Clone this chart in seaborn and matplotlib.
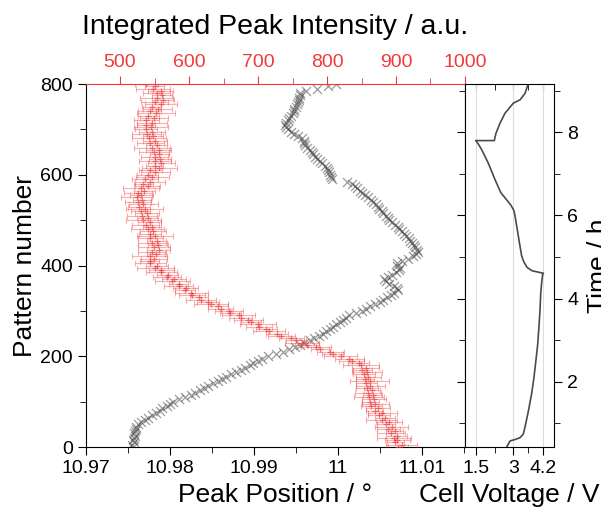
import numpy as np
import matplotlib
matplotlib.use("Agg")
import matplotlib.pyplot as plt
import seaborn as sns
from matplotlib.ticker import MultipleLocator, FixedLocator

# donnees (un pattern sur 5)
pattern = list(range(0, 801, 5))

peak_position = [
    10.9756, 10.9755, 10.9757, 10.9756, 10.9757, 10.9758, 10.9757, 10.9758, 10.9759, 10.9759,
    10.9762, 10.9765, 10.9770, 10.9774, 10.9779, 10.9783, 10.9788, 10.9791, 10.9796, 10.9800,
    10.9804, 10.9811, 10.9818, 10.9825, 10.9830, 10.9836, 10.9841, 10.9845, 10.9851, 10.9857,
    10.9862, 10.9867, 10.9873, 10.9878, 10.9884, 10.9889, 10.9895, 10.9899, 10.9905, 10.9910,
    10.9917, 10.9926, 10.9935, 10.9942, 10.9949, 10.9955, 10.9960, 10.9966, 10.9971, 10.9977,
    10.9982, 10.9986, 10.9990, 10.9994, 10.9998, 11.0002, 11.0006, 11.0009, 11.0013, 11.0021,
    11.0028, 11.0033, 11.0038, 11.0044, 11.0050, 11.0054, 11.0058, 11.0063, 11.0067, 11.0071,
    11.0070, 11.0066, 11.0061, 11.0057, 11.0055, 11.0059, 11.0064, 11.0069, 11.0073, 11.0074,
    11.0070, 11.0070, 11.0076, 11.0083, 11.0089, 11.0093, 11.0095, 11.0094, 11.0092, 11.0090,
    11.0088, 11.0086, 11.0084, 11.0081, 11.0078, 11.0076, 11.0073, 11.0071, 11.0068, 11.0064,
    11.0061, 11.0059, 11.0057, 11.0054, 11.0052, 11.0049, 11.0047, 11.0045, 11.0042, 11.0039,
    11.0036, 11.0032, 11.0029, 11.0026, 11.0023, 11.0020, 11.0017, 11.0010, 10.9993, 10.9991,
    10.9990, 10.9989, 10.9988, 10.9987, 10.9985, 10.9981, 10.9978, 10.9975, 10.9972, 10.9970,
    10.9969, 10.9966, 10.9963, 10.9961, 10.9960, 10.9959, 10.9957, 10.9952, 10.9948, 10.9944,
    10.9940, 10.9938, 10.9937, 10.9938, 10.9940, 10.9942, 10.9944, 10.9946, 10.9947, 10.9948,
    10.9950, 10.9951, 10.9952, 10.9953, 10.9954, 10.9955, 10.9955, 10.9962, 10.9975, 10.9988,
    10.9997]

intensity = [
    903, 908, 899, 902, 897, 901, 893, 898, 889, 894,
    886, 890, 879, 884, 876, 880, 869, 874, 864, 870,
    863, 868, 861, 866, 859, 865, 858, 863, 857, 862,
    855, 860, 853, 858, 851, 856, 849, 846, 836, 832,
    820, 808, 805, 790, 784, 771, 764, 755, 748, 734,
    728, 716, 712, 702, 700, 690, 686, 675, 672, 660,
    658, 646, 642, 632, 628, 617, 614, 604, 603, 594,
    595, 585, 585, 576, 578, 568, 569, 560, 560, 551,
    554, 544, 543, 549, 543, 552, 546, 556, 549, 555,
    547, 553, 544, 551, 543, 548, 540, 546, 537, 543,
    534, 540, 532, 539, 530, 536, 528, 534, 526, 532,
    524, 531, 526, 535, 530, 540, 534, 543, 536, 547,
    540, 551, 544, 557, 550, 560, 551, 558, 550, 557,
    549, 556, 546, 553, 544, 551, 542, 548, 539, 546,
    537, 545, 537, 546, 538, 549, 541, 552, 543, 555,
    546, 559, 550, 562, 553, 561, 553, 559, 548, 550,
    538]

intensity_err = [
    14, 22, 12, 18, 25, 15, 20, 12, 17, 24,
    13, 19, 22, 14, 16, 21, 12, 18, 15, 20,
    13, 17, 22, 14, 19, 12, 16, 21, 15, 28,
    13, 18, 16, 22, 14, 20, 26, 15, 18, 21,
    24, 15, 19, 13, 22, 17, 25, 14, 18, 20,
    16, 23, 15, 19, 26, 14, 21, 17, 24, 15,
    20, 18, 14, 25, 16, 22, 13, 19, 24, 15,
    18, 21, 14, 26, 17, 20, 15, 23, 18, 27,
    16, 22, 14, 19, 25, 13, 20, 17, 23, 15,
    21, 14, 18, 26, 16, 19, 24, 13, 20, 17,
    25, 15, 22, 18, 14, 27, 16, 21, 19, 13,
    23, 17, 20, 15, 26, 18, 14, 22, 19, 24,
    15, 21, 17, 25, 13, 20, 23, 16, 19, 14,
    22, 18, 26, 15, 20, 17, 24, 14, 21, 19,
    16, 25, 13, 22, 18, 20, 15, 27, 17, 21,
    14, 23, 19, 16, 24, 15, 20, 18, 25, 14,
    17]

# courbe electrochimique
cell_voltage = [2.74, 2.87, 3.10, 3.27, 3.40, 3.47, 3.60, 3.73, 3.82, 3.90,
                3.97, 4.02, 4.06, 4.09, 4.13, 4.17, 4.20, 4.05, 3.75, 3.55,
                3.42, 3.33, 3.24, 3.16, 3.11, 3.07, 3.02, 2.90, 2.70, 2.50,
                2.27, 2.00, 1.74, 1.60, 1.50, 2.24, 2.31, 2.47, 2.67, 3.00,
                3.27, 3.47, 3.60]
time_h = [0.44, 0.58, 0.62, 0.66, 0.75, 0.93, 1.30, 1.72, 2.10, 2.52,
          2.90, 3.32, 3.70, 4.12, 4.40, 4.59, 4.61, 4.63, 4.67, 4.75,
          4.88, 5.03, 5.35, 5.65, 5.83, 5.98, 6.12, 6.25, 6.40, 6.55,
          6.86, 7.26, 7.58, 7.72, 7.80, 7.80, 7.98, 8.22, 8.46, 8.70,
          8.78, 8.94, 9.18]

sns.set_style("ticks")
plt.rcParams['font.family'] = ['Liberation Sans', 'DejaVu Sans']
plt.rcParams['font.size'] = 14
plt.rcParams['text.color'] = 'black'
plt.rcParams['axes.labelcolor'] = 'black'
plt.rcParams['axes.edgecolor'] = 'black'
plt.rcParams['xtick.color'] = 'black'
plt.rcParams['ytick.color'] = 'black'

RED = '#f03a3a'
GREY = '#4a4a4a'

fig = plt.figure(figsize=(6.01, 5.16), dpi=100)
ax = fig.add_axes([0.1431, 0.1337, 0.6306, 0.7035])
ax_top = ax.twiny()
ax_v = fig.add_axes([0.7737, 0.1337, 0.1481, 0.7035])

# position du pic
sns.scatterplot(x=peak_position, y=pattern, ax=ax, marker='x', s=42,
                color=GREY, alpha=0.55, linewidth=0.9, zorder=2)
ax.set_xlim(10.97, 11.0151)
ax.set_ylim(0, 800)
ax.xaxis.set_major_locator(FixedLocator([10.97, 10.98, 10.99, 11.0, 11.01]))
ax.xaxis.set_minor_locator(MultipleLocator(0.005))
ax.set_xticklabels(['10.97', '10.98', '10.99', '11', '11.01'])
ax.yaxis.set_major_locator(MultipleLocator(200))
ax.yaxis.set_minor_locator(MultipleLocator(100))
ax.tick_params(axis='both', which='both', direction='out', top=False, right=False,
               labelsize=14)
ax.tick_params(which='major', length=6)
ax.tick_params(which='minor', length=4)
ax.set_xlabel('Peak Position / °', fontsize=19, labelpad=4)
ax.set_ylabel('Pattern number', fontsize=19, labelpad=2)
ax.spines['top'].set_visible(False)

# intensite integree (axe du haut)
ax_top.errorbar(intensity, pattern, xerr=intensity_err, fmt='none', ecolor=RED,
                elinewidth=0.8, capsize=2.5, capthick=0.8, alpha=0.4, zorder=3)
sns.scatterplot(x=intensity, y=pattern, ax=ax_top, marker='+', s=22,
                color=RED, alpha=0.7, linewidth=0.9, zorder=4)
ax_top.set_xlim(450.7, 1000)
ax_top.set_ylim(0, 800)
ax_top.xaxis.set_major_locator(MultipleLocator(100))
ax_top.xaxis.set_minor_locator(MultipleLocator(50))
ax_top.tick_params(axis='x', which='both', direction='out', colors=RED, labelsize=14)
ax_top.tick_params(which='major', length=6)
ax_top.tick_params(which='minor', length=4)
ax_top.spines['top'].set_color(RED)
ax_top.set_xlabel('Integrated Peak Intensity / a.u.', fontsize=20.5, color='black',
                  labelpad=14)
for s in ['left', 'right', 'bottom']:
    ax_top.spines[s].set_visible(False)

# tension de la cellule
sns.lineplot(x=cell_voltage, y=time_h, ax=ax_v, sort=False, color=GREY,
             linewidth=1.2, estimator=None)
ax_v.set_xlim(1.073, 4.62)
ax_v.set_ylim(0.434, 9.16)
ax_v.xaxis.set_major_locator(FixedLocator([1.5, 3, 4.2]))
ax_v.xaxis.set_minor_locator(FixedLocator([2.25, 3.6]))
ax_v.set_xticklabels(['1.5', '3', '4.2'])
ax_v.yaxis.set_major_locator(MultipleLocator(2))
ax_v.yaxis.set_minor_locator(MultipleLocator(1))
ax_v.yaxis.tick_right()
ax_v.yaxis.set_label_position('right')
ax_v.tick_params(axis='y', which='both', left=True, right=True, direction='out',
                 labelleft=False, labelright=True, labelsize=14)
ax_v.tick_params(axis='x', which='both', direction='out', labelsize=14)
ax_v.tick_params(which='major', length=6)
ax_v.tick_params(which='minor', length=4)
ax_v.grid(axis='x', color='#dddddd', linewidth=0.8)
ax_v.set_xlabel('Cell Voltage / V', fontsize=19, labelpad=4)
ax_v.set_ylabel('Time / h', fontsize=19, labelpad=6)
sec = ax_v.secondary_xaxis('top')
sec.xaxis.set_major_locator(FixedLocator([1.5, 3, 4.2]))
sec.xaxis.set_minor_locator(FixedLocator([2.25, 3.6]))
sec.tick_params(which='both', direction='in', labeltop=False, length=4)
sec.spines['top'].set_visible(False)

fig.savefig('out.png', dpi=100)
